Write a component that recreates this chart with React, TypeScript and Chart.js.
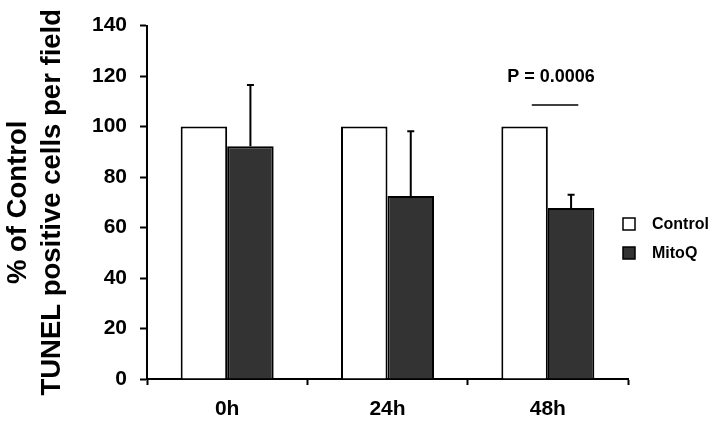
import React, { useEffect, useRef } from 'react';
import { Chart, registerables } from 'chart.js';

Chart.register(...registerables);

const categories = ['0h', '24h', '48h'];
const seriesNames = ['Control', 'MitoQ'];
const controlValues = [100, 100, 100];
const mitoqValues = [92.2, 72.5, 67.7];
const mitoqErrors = [24.3, 25.6, 5.3];
const pValueLabel = 'P = 0.0006';
const pValueCategory = 2;

const FONT = '"Liberation Sans", Arial, Helvetica, sans-serif';
const controlColor = '#ffffff';
const mitoqColor = '#333333';

const errorBarPlugin = {
  id: 'errorBars',
  afterDatasetsDraw(chart: any) {
    const ctx = chart.ctx;
    const meta = chart.getDatasetMeta(1);
    const y = chart.scales.y;
    ctx.save();
    ctx.strokeStyle = '#000';
    ctx.lineWidth = 2;
    meta.data.forEach((bar: any, i: number) => {
      const v = mitoqValues[i];
      const top = y.getPixelForValue(v + mitoqErrors[i]);
      const base = y.getPixelForValue(v);
      ctx.beginPath();
      ctx.moveTo(bar.x, base);
      ctx.lineTo(bar.x, top);
      ctx.moveTo(bar.x - 3.5, top);
      ctx.lineTo(bar.x + 3.5, top);
      ctx.stroke();
    });
    ctx.restore();
  },
};

const annotationPlugin = {
  id: 'pAnnotation',
  afterDraw(chart: any) {
    const ctx = chart.ctx;
    const x = chart.scales.x;
    const y = chart.scales.y;
    const cx = x.getPixelForValue(pValueCategory);
    const catW = x.getPixelForValue(1) - x.getPixelForValue(0);
    ctx.save();
    ctx.fillStyle = '#000';
    ctx.font = `bold 18px ${FONT}`;
    ctx.textAlign = 'center';
    ctx.textBaseline = 'middle';
    ctx.fillText(pValueLabel, cx + catW * 0.02, y.getPixelForValue(119.5));
    ctx.strokeStyle = '#000';
    ctx.lineWidth = 1.5;
    const ly = y.getPixelForValue(108.5);
    ctx.beginPath();
    ctx.moveTo(cx - catW * 0.1, ly);
    ctx.lineTo(cx + catW * 0.19, ly);
    ctx.stroke();
    ctx.restore();
  },
};

const legendPlugin = {
  id: 'customLegend',
  afterDraw(chart: any) {
    const ctx = chart.ctx;
    const area = chart.chartArea;
    ctx.save();
    ctx.font = `bold 16px ${FONT}`;
    ctx.textBaseline = 'middle';
    ctx.textAlign = 'left';
    chart.data.datasets.forEach((ds: any, i: number) => {
      const boxX = area.right - 5;
      const cy = 224 + i * 29;
      ctx.fillStyle = ds.backgroundColor;
      ctx.fillRect(boxX, cy - 6, 12, 12);
      ctx.strokeStyle = '#000';
      ctx.lineWidth = 1.5;
      ctx.strokeRect(boxX, cy - 6, 12, 12);
      ctx.fillStyle = '#000';
      ctx.fillText(ds.label, boxX + 29, cy + 1);
    });
    ctx.restore();
  },
};

export default function App() {
  const ref = useRef<HTMLCanvasElement>(null);
  useEffect(() => {
    if (!ref.current) return;
    const chart = new Chart(ref.current, {
      type: 'bar',
      data: {
        labels: categories,
        datasets: [
          {
            label: seriesNames[0],
            data: controlValues,
            backgroundColor: controlColor,
            borderColor: '#000',
            borderWidth: 2,
            categoryPercentage: 0.58,
            barPercentage: 1,
          },
          {
            label: seriesNames[1],
            data: mitoqValues,
            backgroundColor: mitoqColor,
            borderColor: '#000',
            borderWidth: 2,
            categoryPercentage: 0.58,
            barPercentage: 1,
          },
        ],
      },
      options: {
        responsive: false,
        animation: false,
        layout: { padding: { left: 0, right: 93, top: 21, bottom: 0 } },
        plugins: {
          legend: { display: false },
          tooltip: { enabled: false },
        },
        scales: {
          x: {
            grid: {
              display: true,
              drawOnChartArea: false,
              drawTicks: true,
              tickLength: 6,
              tickWidth: 2,
              tickColor: '#000',
              offset: true,
            },
            border: { display: true, color: '#000', width: 2 },
            ticks: {
              color: '#000',
              font: { family: FONT, size: 21, weight: 'bold' },
              padding: 12,
            },
            afterFit(scale: any) {
              scale.height = 46;
            },
          },
          y: {
            min: 0,
            max: 140,
            ticks: {
              stepSize: 20,
              color: '#000',
              font: { family: FONT, size: 21, weight: 'bold' },
              padding: 13,
            },
            grid: {
              display: true,
              drawOnChartArea: false,
              drawTicks: true,
              tickLength: 7,
              tickWidth: 2,
              tickColor: '#000',
            },
            border: { display: true, color: '#000', width: 2 },
            title: {
              display: true,
              text: ['% of Control', 'TUNEL positive cells per field'],
              color: '#000',
              font: { family: FONT, size: 27.5, weight: 'bold', lineHeight: 1.25 },
              padding: { top: 1, bottom: 0 },
            },
            afterFit(scale: any) {
              scale.width = 147;
            },
          },
        },
      },
      plugins: [errorBarPlugin, annotationPlugin, legendPlugin],
    });
    return () => chart.destroy();
  }, []);
  return (
    <canvas
      ref={ref}
      width={721}
      height={425}
      style={{ position: 'absolute', left: 0, top: 0, width: 721, height: 425 }}
    />
  );
}
